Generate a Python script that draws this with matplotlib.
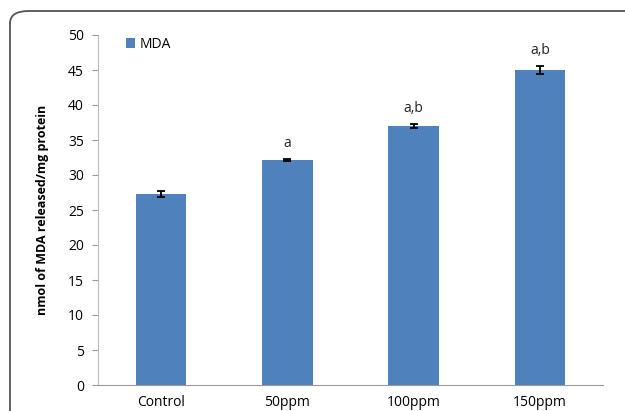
import numpy as np
import matplotlib.pyplot as plt
from matplotlib.patches import FancyBboxPatch

plt.rcParams['font.family'] = ['Open Sans', 'DejaVu Sans']

groups = ['Control', '50ppm', '100ppm', '150ppm']
mda = [27.3, 32.1, 37.0, 45.0]
err = [0.45, 0.12, 0.3, 0.55]
marks = ['', 'a', 'a,b', 'a,b']

fig = plt.figure(figsize=(6.25, 4.11), dpi=100)

# rounded frame, cut by the right and bottom edges
frame = FancyBboxPatch((10 / 625, -0.2), 1.3, 1.2 - 11 / 411,
                       boxstyle='round,pad=0,rounding_size=0.03',
                       transform=fig.transFigure, fill=False,
                       edgecolor='#555555', linewidth=1.3)
fig.patches.append(frame)

ax = fig.add_axes([98 / 625, 1 - 385 / 411, 505 / 625, 350 / 411])
x = np.arange(len(groups))
ax.bar(x, mda, width=0.4, color='#4f81bd', label='MDA', zorder=2)
ax.errorbar(x, mda, yerr=err, fmt='none', ecolor='black', elinewidth=1.3,
            capsize=3, capthick=1.3, zorder=3)
for xi, v, e, m in zip(x, mda, err, marks):
    if m:
        ax.text(xi, v + e + 1.2, m, ha='center', va='bottom', fontsize=10, color='#222222')

ax.set_xlim(-0.5, len(groups) - 0.5)
ax.set_ylim(0, 50)
ax.set_yticks(range(0, 51, 5))
ax.set_xticks(x)
ax.set_xticklabels(groups, fontsize=10)
ax.tick_params(axis='x', length=0, pad=7)
ax.tick_params(axis='y', length=4, color='#999999', labelsize=10, pad=6)
for s in ['top', 'right']:
    ax.spines[s].set_visible(False)
ax.spines['left'].set_color('#bbbbbb')
ax.spines['bottom'].set_color('#999999')
ax.set_ylabel('nmol of MDA released/mg protein', fontsize=9, fontweight='bold', labelpad=14)
ax.legend(loc='upper left', bbox_to_anchor=(0.03, 1.03), frameon=False, fontsize=10,
          handlelength=0.7, handleheight=0.7, handletextpad=0.3)

fig.savefig('out.png', dpi=100)
